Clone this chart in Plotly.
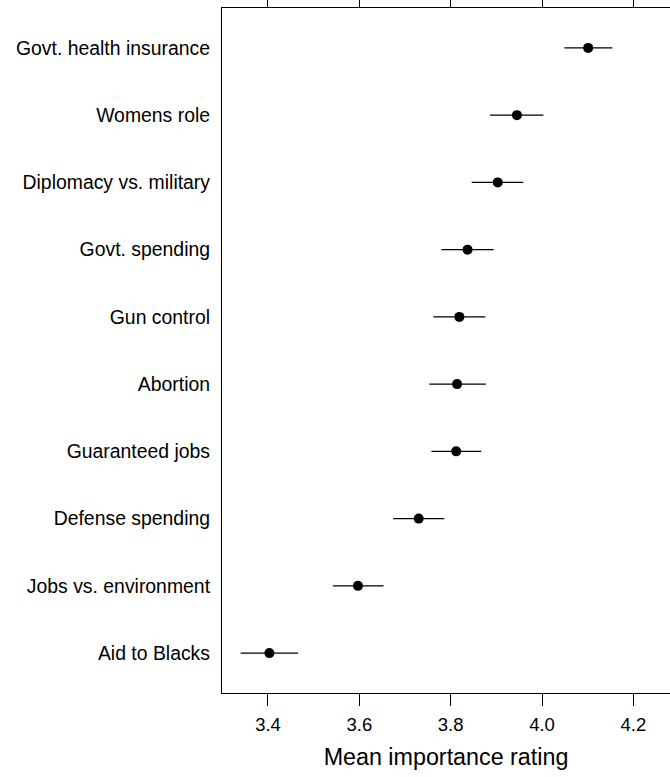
import plotly.graph_objects as go

# Issue importance: mean rating with its interval, bottom-to-top order
issues = [
    "Aid to Blacks",
    "Jobs vs. environment",
    "Defense spending",
    "Guaranteed jobs",
    "Abortion",
    "Gun control",
    "Govt. spending",
    "Diplomacy vs. military",
    "Womens role",
    "Govt. health insurance",
]
mean_rating = [3.403, 3.597, 3.730, 3.812, 3.814, 3.819, 3.837, 3.903, 3.945, 4.101]
lower_bound = [3.340, 3.542, 3.674, 3.758, 3.753, 3.762, 3.780, 3.846, 3.886, 4.049]
upper_bound = [3.466, 3.653, 3.786, 3.867, 3.877, 3.876, 3.894, 3.959, 4.003, 4.154]

x_ticks = [3.4, 3.6, 3.8, 4.0, 4.2]
x_tick_text = ["3.4", "3.6", "3.8", "4.0", "4.2"]

err_plus = [u - m for u, m in zip(upper_bound, mean_rating)]
err_minus = [m - l for m, l in zip(mean_rating, lower_bound)]

FONT = "Liberation Sans, Arial, Helvetica, sans-serif"

fig = go.Figure(
    go.Scatter(
        x=mean_rating,
        y=list(range(len(issues))),
        mode="markers",
        marker=dict(color="black", size=10, symbol="circle"),
        error_x=dict(
            type="data",
            symmetric=False,
            array=err_plus,
            arrayminus=err_minus,
            color="black",
            thickness=1.4,
            width=0,
        ),
        showlegend=False,
        hoverinfo="x+text",
        text=issues,
    )
)

fig.update_layout(
    width=670,
    height=777,
    margin=dict(l=222, r=0, t=8, b=84, autoexpand=False),
    paper_bgcolor="white",
    plot_bgcolor="white",
    font=dict(family=FONT, color="black", size=17),
    xaxis=dict(
        range=[3.2993, 4.2802],
        tickvals=x_ticks,
        ticktext=x_tick_text,
        ticks="outside",
        ticklen=12,
        tickwidth=1.2,
        tickcolor="black",
        showline=True,
        linecolor="black",
        linewidth=1.2,
        mirror="ticks",
        showgrid=False,
        zeroline=False,
        automargin=False,
        tickfont=dict(size=18.5, family=FONT),
        ticklabelstandoff=3,
        title=dict(text="Mean importance rating", font=dict(size=23.3, family=FONT), standoff=14),
    ),
    yaxis=dict(
        range=[-0.593, 9.593],
        tickvals=list(range(len(issues))),
        ticktext=issues,
        ticks="",
        showline=True,
        linecolor="black",
        linewidth=1.2,
        mirror=False,
        showgrid=False,
        zeroline=False,
        automargin=False,
        tickfont=dict(size=19.4, family=FONT),
        ticklabelstandoff=7,
    ),
)

fig.write_html("out.html")
